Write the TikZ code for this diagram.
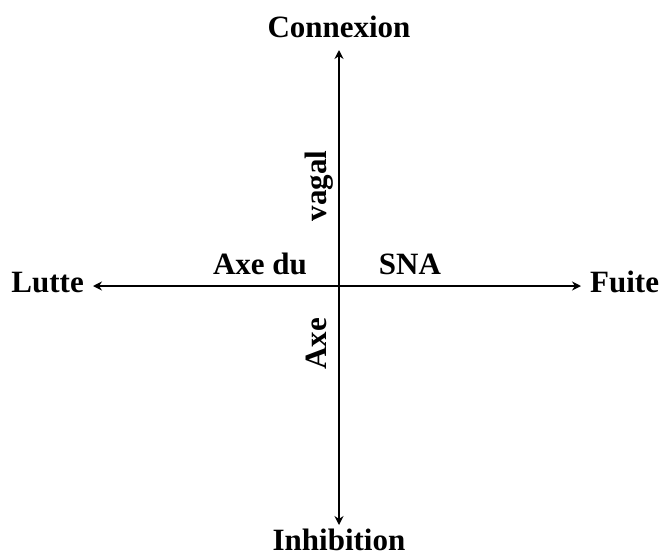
\documentclass[tikz,border=0pt]{standalone}
\usepackage{fontspec}
\setmainfont{Liberation Serif}
\usepackage{tikz}
\usetikzlibrary{arrows.meta,positioning}
\definecolor{ink}{HTML}{000000}
\tikzset{
  >={Stealth[length=9pt,width=9pt]},
  every node/.style={text=ink},
  pole/.style={font=\fontsize{31}{36}\selectfont\bfseries,inner sep=0pt,anchor=base},
  axislab/.style={pole},
  axisline/.style={<->,line width=2.2pt,draw=ink}
}
\begin{document}
\begin{tikzpicture}[x=1pt,y=-1pt]
  \useasboundingbox (0,0) rectangle (662,557);
  % poles
  \node[pole] (connexion) at (339,37) {Connexion};
  \node[pole] (inhibition) at (339,550) {Inhibition};
  \node[pole,anchor=base east] (lutte) at (84,292) {Lutte};
  \node[pole,anchor=base west] (fuite) at (590,292) {Fuite};

  \coordinate (top) at (339,50);
  \coordinate (bottom) at (339,525);
  \coordinate (left) at (93,286);
  \coordinate (right) at (581,286);

  \draw[axisline] (bottom) -- (top);
  \draw[axisline] (left) -- (right);

  % axis labels
  \node[axislab] (axedu) at (260,274) {Axe du};
  \node[axislab] (sna) at (410,274) {SNA};
  \node[axislab,rotate=90] (vagal) at (326,186) {vagal};
  \node[axislab,rotate=90] (axe) at (326,344) {Axe};
\end{tikzpicture}
\end{document}
